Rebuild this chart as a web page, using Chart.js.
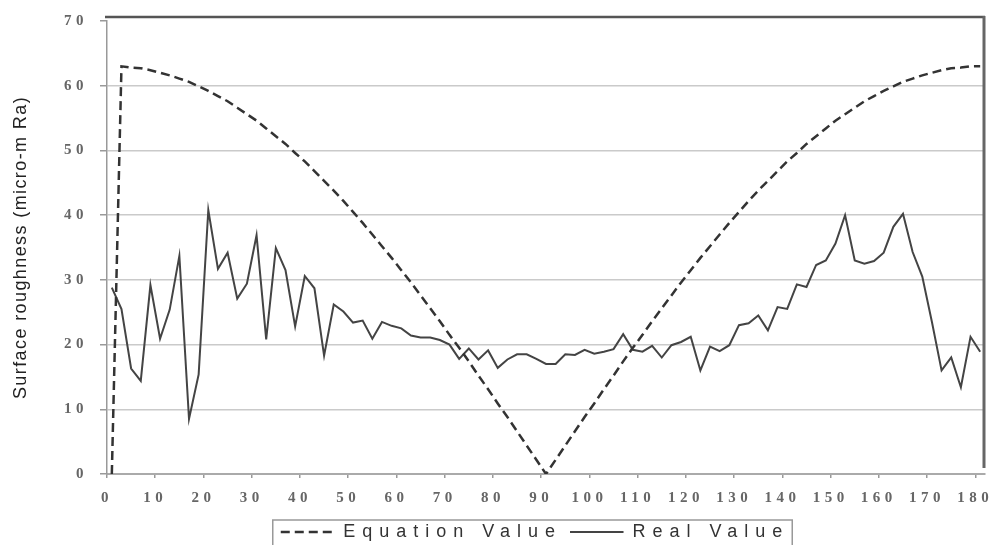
<!DOCTYPE html>
<html>
<head>
<meta charset="utf-8">
<title>Surface roughness</title>
<script src="https://cdn.jsdelivr.net/npm/chart.js@4.4.1/dist/chart.umd.min.js"></script>
<style>
  html, body { margin: 0; padding: 0; background: #fff; }
</style>
</head>
<body>
<canvas id="chart" width="1001" height="545"></canvas>
<script>
// x 位置（每 2 个单位一个点）
const angles = [
  1, 3, 5, 7, 9, 11, 13, 15, 17, 19,
  21, 23, 25, 27, 29, 31, 33, 35, 37, 39,
  41, 43, 45, 47, 49, 51, 53, 55, 57, 59,
  61, 63, 65, 67, 69, 71, 73, 75, 77, 79,
  81, 83, 85, 87, 89, 91, 93, 95, 97, 99,
  101, 103, 105, 107, 109, 111, 113, 115, 117, 119,
  121, 123, 125, 127, 129, 131, 133, 135, 137, 139,
  141, 143, 145, 147, 149, 151, 153, 155, 157, 159,
  161, 163, 165, 167, 169, 171, 173, 175, 177, 179,
  181
];

// 公式值（虚线）
const equationValue = [
  0, 63.0, 62.8, 62.7, 62.4, 62.0, 61.6, 61.1, 60.6, 59.9,
  59.2, 58.4, 57.6, 56.6, 55.6, 54.6, 53.4, 52.2, 51.0, 49.6,
  48.3, 46.8, 45.3, 43.8, 42.2, 40.5, 38.8, 37.0, 35.2, 33.4,
  31.5, 29.6, 27.6, 25.6, 23.6, 21.5, 19.5, 17.4, 15.2, 13.1,
  10.9, 8.8, 6.6, 4.4, 2.2, 0, 2.2, 4.4, 6.6, 8.8,
  10.9, 13.1, 15.2, 17.4, 19.5, 21.5, 23.6, 25.6, 27.6, 29.6,
  31.5, 33.4, 35.2, 37.0, 38.8, 40.5, 42.2, 43.8, 45.3, 46.8,
  48.3, 49.6, 51.0, 52.2, 53.4, 54.6, 55.6, 56.6, 57.6, 58.4,
  59.2, 59.9, 60.6, 61.1, 61.6, 62.0, 62.4, 62.7, 62.8, 63.0,
  63.0
];

// 实测值（实线）
const realValue = [
  28.8, 25.5, 16.3, 14.4, 29.2, 20.9, 25.4, 33.7, 8.5, 15.4,
  40.8, 31.7, 34.2, 27.1, 29.4, 36.9, 20.8, 34.9, 31.5, 22.8,
  30.6, 28.7, 18.3, 26.2, 25.1, 23.4, 23.7, 20.9, 23.5, 22.9,
  22.5, 21.4, 21.1, 21.1, 20.7, 20.0, 17.8, 19.4, 17.7, 19.1,
  16.4, 17.7, 18.5, 18.5, 17.8, 17.0, 17.0, 18.5, 18.4, 19.2,
  18.6, 18.9, 19.3, 21.6, 19.2, 18.9, 19.8, 18.0, 19.9, 20.4,
  21.2, 16.0, 19.7, 19.0, 19.9, 23.0, 23.3, 24.5, 22.2, 25.8,
  25.5, 29.3, 28.9, 32.3, 33.0, 35.6, 40.0, 33.0, 32.5, 32.9,
  34.2, 38.2, 40.2, 34.3, 30.5, 23.5, 16.0, 18.0, 13.4, 21.2,
  18.9
];

// 刻度
const xTicks = [0, 10, 20, 30, 40, 50, 60, 70, 80, 90, 100, 110, 120, 130, 140, 150, 160, 170, 180];
const yTicks = [0, 10, 20, 30, 40, 50, 60, 70];

const ctx = document.getElementById('chart').getContext('2d');

// 字距 + 外框 + 图例边框
const framePlugin = {
  id: 'frame',
  beforeLayout(chart) {
    const legend = chart.legend;
    if (!legend || legend._spaced) return;
    legend._spaced = true;
    const fit = legend.fit;
    const draw = legend.draw;
    legend.fit = function () {
      this.ctx.letterSpacing = '7px';
      fit.apply(this, arguments);
      this.ctx.letterSpacing = '0px';
    };
    legend.draw = function () {
      this.ctx.letterSpacing = '7px';
      draw.apply(this, arguments);
      this.ctx.letterSpacing = '1.4px';
    };
  },
  afterLayout(chart) {
    // 图例整体左移一点
    chart.legend.left -= 11;
    chart.legend.right -= 11;
  },
  beforeDraw(chart) {
    chart.ctx.letterSpacing = '1.4px';
  },
  afterDatasetsDraw(chart) {
    chart.ctx.letterSpacing = '4.5px';
  },
  afterDraw(chart) {
    const c = chart.ctx;
    const a = chart.chartArea;
    c.save();
    c.letterSpacing = '0px';
    // 上边框和右边框
    c.strokeStyle = '#555';
    c.lineWidth = 2.5;
    c.beginPath();
    c.moveTo(a.left - 2, a.top - 4);
    c.lineTo(a.right, a.top - 4);
    c.stroke();
    c.strokeStyle = '#666';
    c.lineWidth = 3;
    c.beginPath();
    c.moveTo(a.right - 1, a.top - 5);
    c.lineTo(a.right - 1, a.bottom - 6);
    c.stroke();
    // 图例边框
    const boxes = chart.legend.legendHitBoxes;
    if (boxes && boxes.length) {
      const left = Math.min(...boxes.map(b => b.left)) - 8;
      const right = Math.max(...boxes.map(b => b.left + b.width)) + 3;
      c.strokeStyle = '#999';
      c.lineWidth = 1.5;
      c.strokeRect(left, chart.legend.top + 5, right - left, chart.legend.height + 4);
    }
    c.restore();
    c.letterSpacing = '0px';
  }
};

const tickFont = { family: 'Liberation Serif', size: 15, weight: 'bold' };

const chart = new Chart(ctx, {
  type: 'line',
  data: {
    datasets: [{
      label: 'Equation Value',
      data: angles.map((x, i) => ({ x: x, y: equationValue[i] })),
      borderColor: '#333',
      backgroundColor: 'transparent',
      borderWidth: 2.5,
      borderDash: [9, 5],
      pointRadius: 0,
      tension: 0
    }, {
      label: 'Real Value',
      data: angles.map((x, i) => ({ x: x, y: realValue[i] })),
      borderColor: '#444',
      backgroundColor: 'transparent',
      borderWidth: 2,
      pointRadius: 0,
      tension: 0
    }]
  },
  options: {
    responsive: false,
    animation: false,
    devicePixelRatio: 1,
    layout: { padding: { left: 0, right: 16, top: 17, bottom: -6 } },
    plugins: {
      tooltip: { enabled: false },
      legend: {
        position: 'bottom',
        fullSize: false,
        labels: {
          font: { family: 'Liberation Sans', size: 18 },
          color: '#333',
          boxWidth: 53.5,
          boxHeight: 0,
          padding: 8
        }
      }
    },
    scales: {
      x: {
        type: 'linear',
        min: 0,
        max: 182,
        afterFit: s => { s.height = 41; },
        afterBuildTicks: s => { s.ticks = xTicks.map(v => ({ value: v })); },
        grid: { drawOnChartArea: false, tickLength: 4, tickColor: '#999', lineWidth: 1.5 },
        border: { color: '#aaa', width: 2 },
        ticks: { font: tickFont, color: '#666', padding: 11, maxRotation: 0, autoSkip: false, z: 1 }
      },
      y: {
        min: 0,
        max: 70,
        afterFit: s => { s.width = 107; },
        afterBuildTicks: s => { s.ticks = yTicks.map(v => ({ value: v })); },
        grid: {
          color: c => (c.tick && c.tick.value === 70) ? 'transparent' : '#cacaca',
          lineWidth: 1.5,
          tickLength: 7,
          tickColor: '#999'
        },
        border: { color: '#999', width: 1.5 },
        ticks: { font: tickFont, color: '#666', padding: 12, z: 1 },
        title: {
          display: true,
          text: 'Surface roughness (micro-m Ra)',
          font: { family: 'Liberation Sans', size: 18 },
          color: '#222',
          padding: { top: 10, bottom: 0 }
        }
      }
    }
  },
  plugins: [framePlugin]
});
</script>
</body>
</html>
